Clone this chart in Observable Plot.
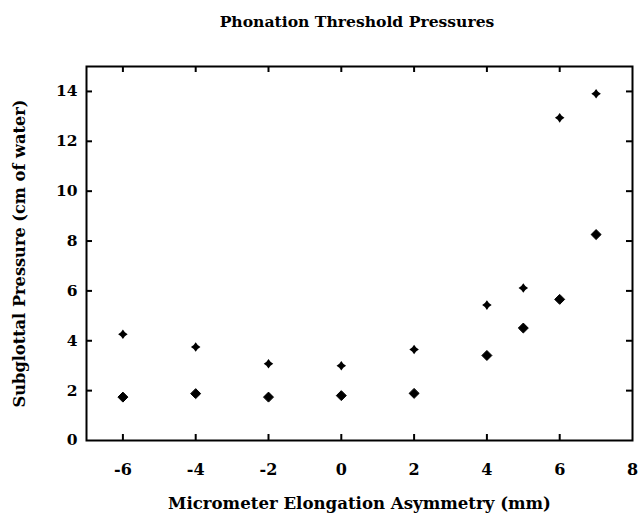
<!DOCTYPE html>
<html>
<head>
<meta charset="utf-8">
<script src="https://cdn.jsdelivr.net/npm/d3@7"></script>
<script src="https://cdn.jsdelivr.net/npm/@observablehq/plot@0.6"></script>
<style>
  html, body { margin: 0; padding: 0; background: #fff; }
  #chart { position: relative; width: 639px; height: 520px; font-family: "DejaVu Serif", "Liberation Serif", serif; color: #000; }
  #title { position: absolute; top: 0; left: 357px; transform: translateX(-50%); height: 43px; line-height: 43px; white-space: nowrap; font-size: 15.6px; font-weight: bold; }
  #plot { position: absolute; top: 40px; left: 0; }
</style>
</head>
<body>
<div id="chart">
  <div id="title">Phonation Threshold Pressures</div>
  <div id="plot"></div>
</div>
<script>
// Asymmetry settings (mm) and the two measured threshold pressures (cm of water)
const asymmetry = [-6, -4, -2, 0, 2, 4, 5, 6, 7];
const upperPressure = [4.26, 3.75, 3.08, 3.0, 3.65, 5.43, 6.12, 12.94, 13.91];
const lowerPressure = [1.74, 1.88, 1.74, 1.80, 1.89, 3.41, 4.51, 5.66, 8.26];

const xTicks = [-6, -4, -2, 0, 2, 4, 6, 8];
const yTicks = [0, 2, 4, 6, 8, 10, 12, 14];
const xInnerTicks = [-6, -4, -2, 0, 2, 4, 6];
const yInnerTicks = [2, 4, 6, 8, 10, 12, 14];

const xTitle = "Micrometer Elongation Asymmetry (mm)";
const yTitle = "Subglottal Pressure (cm of water)";

const upper = asymmetry.map((x, i) => ({x, y: upperPressure[i]}));
const lower = asymmetry.map((x, i) => ({x, y: lowerPressure[i]}));

// filled four-pointed star marker
const star4 = {
  draw(context, size) {
    const r = Math.sqrt(size) * 0.56;
    const k = r * 0.42;
    context.moveTo(0, -r);
    context.lineTo(k, -k);
    context.lineTo(r, 0);
    context.lineTo(k, k);
    context.lineTo(0, r);
    context.lineTo(-k, k);
    context.lineTo(-r, 0);
    context.lineTo(-k, -k);
    context.closePath();
  }
};

const W = 639, H = 480;
const mL = 86, mR = 7, mT = 26, mB = 80;
const frameW = W - mL - mR, frameH = H - mT - mB;
const tickLen = 6;

const chart = Plot.plot({
  width: W,
  height: H,
  marginLeft: mL,
  marginRight: mR,
  marginTop: mT,
  marginBottom: mB,
  style: {fontFamily: '"DejaVu Serif", "Liberation Serif", serif', background: "#fff", color: "#000"},
  x: {domain: [-7, 8]},
  y: {domain: [0, 15]},
  marks: [
    Plot.frame({stroke: "#000", strokeWidth: 2}),
    // inward ticks on all four sides
    Plot.tickX(xInnerTicks, {x: d => d, insetTop: frameH - tickLen, strokeWidth: 2}),
    Plot.tickX(xInnerTicks, {x: d => d, insetBottom: frameH - tickLen, strokeWidth: 2}),
    Plot.tickY(yInnerTicks, {y: d => d, insetRight: frameW - tickLen, strokeWidth: 2}),
    Plot.tickY(yInnerTicks, {y: d => d, insetLeft: frameW - tickLen, strokeWidth: 2}),
    Plot.axisX(xTicks, {tickSize: 0, tickPadding: 23, fontSize: 16, fontWeight: "bold",
      tickFormat: d => String(d).replace("\u2212", "-"),
      label: xTitle, labelAnchor: "center", labelOffset: 68}),
    Plot.axisY(yTicks, {tickSize: 0, tickPadding: 9, fontSize: 15.5, fontWeight: "bold",
      label: yTitle, labelAnchor: "center", labelOffset: 73}),
    Plot.dot(upper, {x: "x", y: "y", symbol: star4, r: 4.8, fill: "#000", stroke: "none"}),
    Plot.dot(lower, {x: "x", y: "y", symbol: "diamond2", r: 4.5, fill: "#000", stroke: "#000", strokeWidth: 1, strokeLinejoin: "round"})
  ]
});

// axis titles: plain text, bold serif
chart.querySelectorAll("[aria-label='x-axis label'] text").forEach(t => {
  t.textContent = xTitle;
  t.setAttribute("font-size", "16.6"); t.setAttribute("font-weight", "bold");
});
chart.querySelectorAll("[aria-label='y-axis label'] text").forEach(t => {
  t.textContent = yTitle;
  t.setAttribute("font-size", "16.2"); t.setAttribute("font-weight", "bold");
});
document.getElementById("plot").appendChild(chart);
</script>
</body>
</html>
